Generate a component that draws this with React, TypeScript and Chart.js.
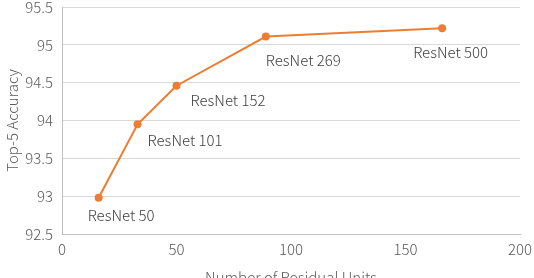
import React, { useEffect, useRef } from "react";
import { Chart, registerables } from "chart.js";

Chart.register(...registerables);

const modelNames = ["ResNet 50", "ResNet 101", "ResNet 152", "ResNet 269", "ResNet 500"];
const residualUnits = [16, 33, 50, 89, 166];
const top5Accuracy = [92.98, 93.95, 94.46, 95.11, 95.22];
const xTicks = [0, 50, 100, 150, 200];
const yTicks = [92.5, 93, 93.5, 94, 94.5, 95, 95.5];

const FONT = "'Noto Sans CJK SC', 'Noto Sans', sans-serif";
const WEIGHT = "300";
const ORANGE = "#ED7D31";

// pixel offsets of each label's left edge / vertical center from its point
const labelOffsets = [
  [-11, 18],
  [10, 16],
  [14, 15],
  [0, 24],
  [-29, 24],
];

const pointLabels = {
  id: "pointLabels",
  afterDatasetsDraw(chart: any) {
    const meta = chart.getDatasetMeta(0);
    const ctx = chart.ctx;
    ctx.save();
    ctx.font = `${WEIGHT} 15px ${FONT}`;
    ctx.fillStyle = "#404040";
    ctx.textAlign = "left";
    ctx.textBaseline = "middle";
    meta.data.forEach((el: any, i: number) => {
      const [dx, dy] = labelOffsets[i];
      ctx.fillText(modelNames[i], el.x + dx, el.y + dy);
    });
    ctx.restore();
  },
};

export default function App() {
  const ref = useRef<HTMLCanvasElement | null>(null);
  useEffect(() => {
    if (!ref.current) return;
    const font = { family: FONT, size: 15, weight: WEIGHT as any };
    const chart = new Chart(ref.current, {
      type: "scatter",
      data: {
        datasets: [
          {
            data: residualUnits.map((x, i) => ({ x, y: top5Accuracy[i] })),
            showLine: true,
            borderColor: ORANGE,
            backgroundColor: ORANGE,
            borderWidth: 2,
            pointRadius: 4,
            pointBorderWidth: 0,
            pointBackgroundColor: ORANGE,
          },
        ],
      },
      plugins: [pointLabels],
      options: {
        animation: false,
        responsive: false,
        devicePixelRatio: 1,
        layout: { padding: { top: 7, right: 14, left: 0, bottom: 0 } },
        plugins: { legend: { display: false }, tooltip: { enabled: false } },
        scales: {
          x: {
            type: "linear",
            min: 0,
            max: 200,
            afterBuildTicks: (s: any) => {
              s.ticks = xTicks.map((v) => ({ value: v }));
            },
            afterFit: (s: any) => {
              s.height = 52;
              s.paddingLeft = 0;
              s.paddingRight = 0;
            },
            grid: { display: false, drawTicks: false },
            border: { display: true, color: "#bfbfbf", width: 1 },
            ticks: { color: "#595959", font, padding: 6, callback: (v: any) => String(v) },
            title: {
              display: true,
              text: "Number of Residual Units",
              color: "#595959",
              font,
              padding: { top: 6, bottom: 0 },
            },
          },
          y: {
            type: "linear",
            min: 92.5,
            max: 95.5,
            afterBuildTicks: (s: any) => {
              s.ticks = yTicks.map((v) => ({ value: v }));
            },
            afterFit: (s: any) => {
              s.width = 62;
              s.paddingTop = 0;
              s.paddingBottom = 0;
            },
            grid: { color: "#d9d9d9", lineWidth: 1, drawTicks: false },
            border: { display: true, color: "#bfbfbf", width: 1 },
            ticks: { color: "#595959", font, padding: 9, callback: (v: any) => String(v) },
            title: {
              display: true,
              text: "Top-5 Accuracy",
              color: "#595959",
              font,
              padding: { top: 3, bottom: 0 },
            },
          },
        },
      },
    });
    return () => chart.destroy();
  }, []);
  return (
    <div style={{ position: "fixed", left: 0, top: 0, width: 534, height: 278, overflow: "hidden", background: "#fff" }}>
      <canvas ref={ref} width={534} height={286} style={{ display: "block" }} />
    </div>
  );
}
